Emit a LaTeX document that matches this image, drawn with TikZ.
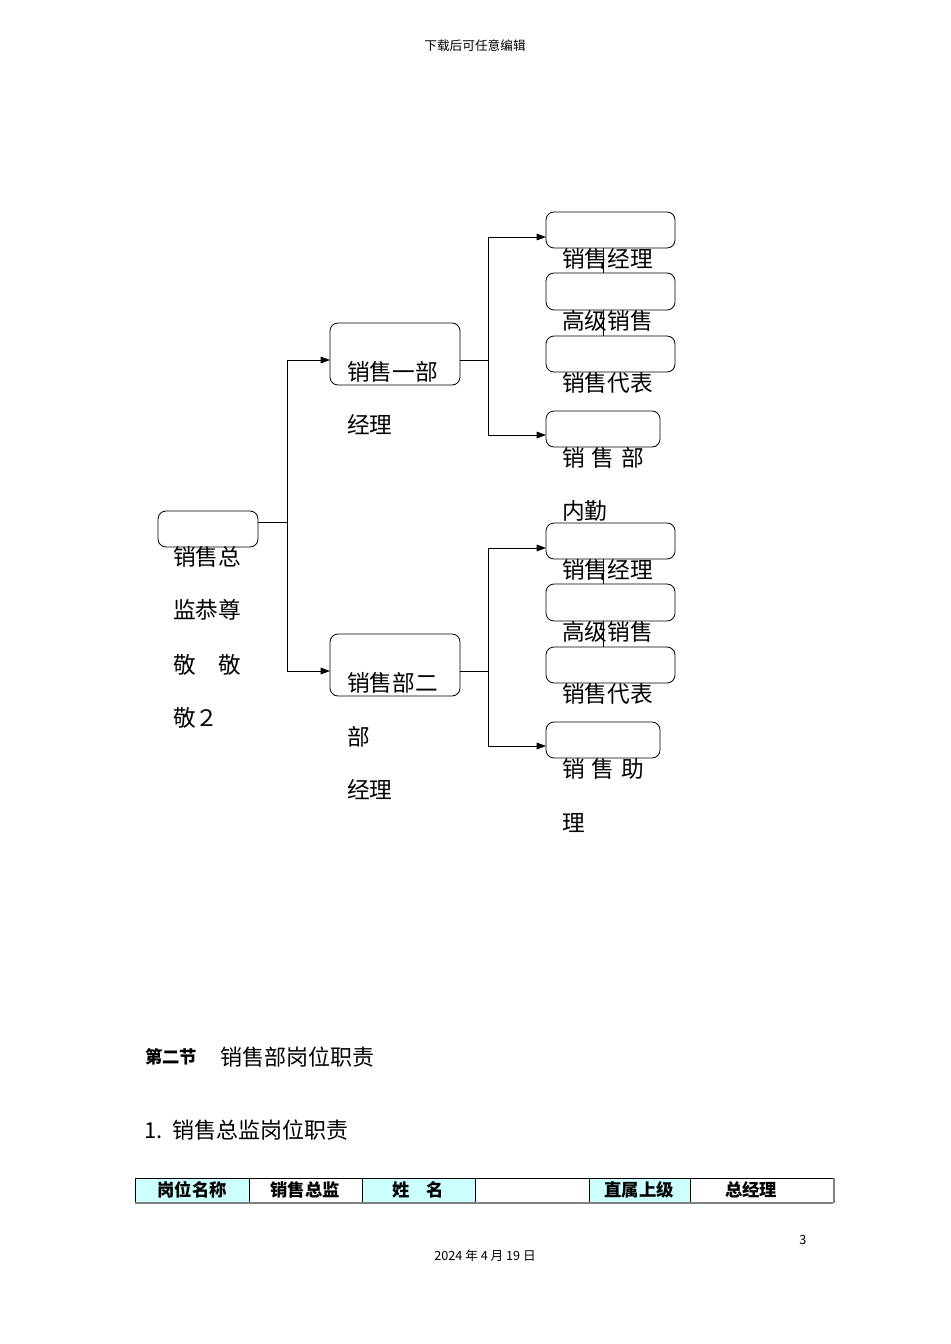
\documentclass[tikz,border=0pt]{standalone}
\usepackage{fontspec}
\setmainfont{Noto Sans CJK SC}
\usetikzlibrary{arrows.meta}
\begin{document}
\begin{tikzpicture}[x=0.75pt,y=-0.75pt,
  bx/.style={draw,rounded corners=6pt,line width=0.6pt},
  tx/.style={anchor=west,inner sep=0pt,font=\fontsize{17}{20}\selectfont},
  ln/.style={line width=0.6pt},
  ar/.style={ln,-{Triangle[length=7pt,width=5pt]}}]
\useasboundingbox (0,0) rectangle (950,1344);
\node[font=\fontsize{9.5}{11}\selectfont] (hdr) at (475,46) {下载后可任意编辑};
% boxes
\draw[bx] (158,511) rectangle (258,547);
\coordinate (rootE) at (258,522);
\draw[bx] (330,323) rectangle (460,385);
\draw[bx] (330,634) rectangle (460,696);
\foreach \o in {0,311}{
 \draw[bx] (546,212+\o) rectangle (675,248+\o);
 \draw[bx] (546,273+\o) rectangle (675,310+\o);
 \draw[bx] (546,336+\o) rectangle (675,372+\o);
 \draw[bx] (546,411+\o) rectangle (660,447+\o);
 \draw[ln] (603,248+\o) -- (603,273+\o);
 \draw[ln] (603,310+\o) -- (603,336+\o);
 \coordinate (j\o) at (488,360+\o);
 \draw[ln] (460,360+\o) -- (j\o);
 \draw[ar] (488,360+\o) |- (546,237+\o);
 \draw[ar] (488,360+\o) |- (546,435+\o);
}
\coordinate (rj) at (287,522);
\draw[ln] (rootE) -- (rj);
\draw[ar] (rj) |- (330,360);
\draw[ar] (rj) |- (330,671);
% texts
\node[tx] (r1) at (173,557) {销售总};
\node[tx] (r2) at (173,610) {监恭尊};
\node[tx] (r3) at (173,665) {敬\hspace{1em}敬};
\node[tx] (r4) at (173,718) {敬２};
\node[tx] (m1) at (347,372) {销售一部};
\node[tx] (m1b) at (347,425) {经理};
\node[tx] (m2) at (347,683) {销售部二};
\node[tx] (m2b) at (347,737) {部};
\node[tx] (m2c) at (347,790) {经理};
\node[tx] (a1) at (562,259) {销售经理};
\node[tx] (a2) at (562,321) {高级销售};
\node[tx] (a3) at (562,383) {销售代表};
\node[tx] (a4) at (562,458) {销\hspace{0.3em}售\hspace{0.3em}部};
\node[tx] (a5) at (562,511) {内勤};
\node[tx] (b1) at (562,570) {销售经理};
\node[tx] (b2) at (562,632) {高级销售};
\node[tx] (b3) at (562,694) {销售代表};
\node[tx] (b4) at (562,769) {销\hspace{0.3em}售\hspace{0.3em}助};
\node[tx] (b5) at (562,823) {理};
% section
\node[anchor=west,inner sep=0pt,font=\fontsize{13}{15}\selectfont\bfseries] (s1) at (145,1057) {第二节};
\node[anchor=west,inner sep=0pt,font=\fontsize{16.5}{19}\selectfont] (s2) at (220,1057) {销售部岗位职责};
\node[anchor=west,inner sep=0pt,font=\fontsize{16.5}{19}\selectfont] (s3) at (144,1130) {1.\ \ 销售总监岗位职责};
% table
\definecolor{tcyan}{HTML}{CCFFFF}
\foreach \a/\b in {135/249,362/475,589/690}{\fill[tcyan] (\a,1178) rectangle (\b,1202);}
\draw[line width=0.6pt] (135,1178) rectangle (833,1202);
\foreach \x in {249,362,475,589,690}{\draw[line width=0.6pt] (\x,1178) -- (\x,1202);}
\draw[line width=1pt,gray] (135,1203) -- (833,1203) (834,1178) -- (834,1203);
\foreach \t/\x in {岗位名称/192,销售总监/305,{姓\hspace{1em}名}/418,直属上级/639,总经理/751}{
 \node[font=\fontsize{13}{15}\selectfont\bfseries,inner sep=0pt] at (\x,1190) {\t};}
\node[font=\fontsize{9.5}{11}\selectfont] (pg) at (803,1240) {3};
\node[font=\fontsize{9.5}{11}\selectfont] (dt) at (485,1256) {2024 年 4 月 19 日};
\end{tikzpicture}
\end{document}
